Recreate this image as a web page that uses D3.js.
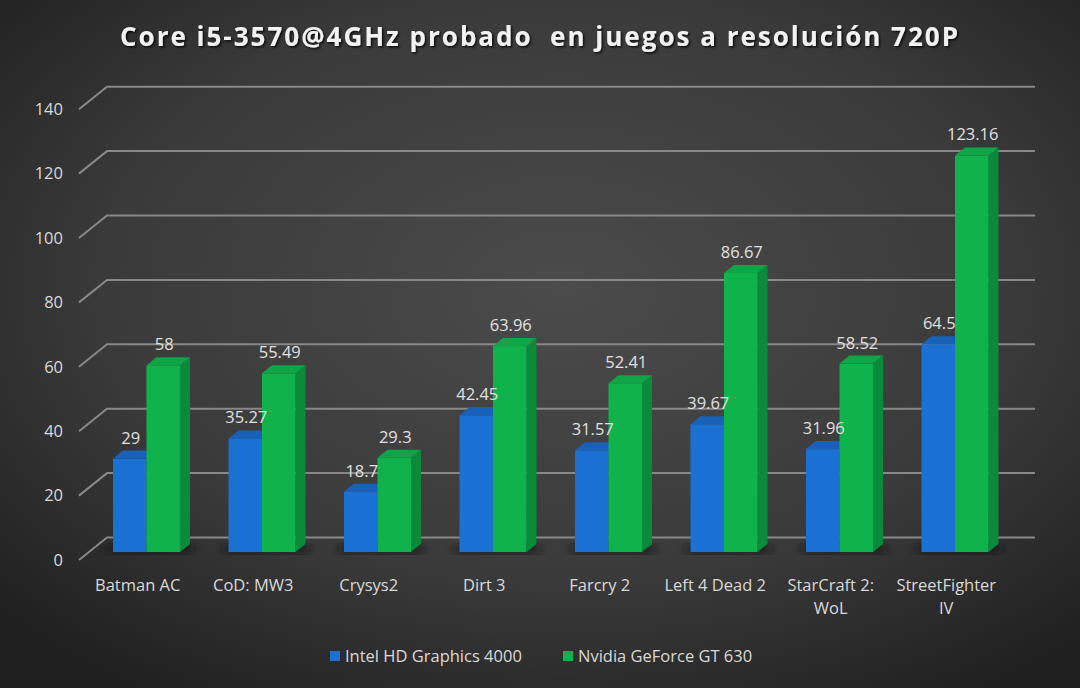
<!DOCTYPE html>
<html>
<head>
<meta charset="utf-8">
<script src="https://cdn.jsdelivr.net/npm/d3@7"></script>
<style>
  html, body { margin: 0; padding: 0; background: #333; }
  svg { display: block; }
</style>
</head>
<body>
<svg width="1080" height="688"></svg>
<script>
// datos del gráfico
const categories = ["Batman AC", "CoD: MW3", "Crysys2", "Dirt 3", "Farcry 2", "Left 4 Dead 2", "StarCraft 2: WoL", "StreetFighter IV"];
const categoryLines = [["Batman AC"], ["CoD: MW3"], ["Crysys2"], ["Dirt 3"], ["Farcry 2"], ["Left 4 Dead 2"], ["StarCraft 2:", "WoL"], ["StreetFighter", "IV"]];
const seriesNames = ["Intel HD Graphics 4000", "Nvidia GeForce GT 630"];
const intelValues = [29, 35.27, 18.7, 42.45, 31.57, 39.67, 31.96, 64.5];
const nvidiaValues = [58, 55.49, 29.3, 63.96, 52.41, 86.67, 58.52, 123.16];
const yTicks = [0, 20, 40, 60, 80, 100, 120, 140];
const title = "Core i5-3570@4GHz probado  en juegos a resolución 720P";

const svg = d3.select("svg");
const font = "Open Sans, sans-serif";

// fondo con degradado radial
const defs = svg.append("defs");
const bg = defs.append("radialGradient").attr("id", "bg")
    .attr("cx", "52%").attr("cy", "42%").attr("r", "70%");
bg.append("stop").attr("offset", "0%").attr("stop-color", "#4b4b4b");
bg.append("stop").attr("offset", "60%").attr("stop-color", "#3a3a3a");
bg.append("stop").attr("offset", "100%").attr("stop-color", "#202020");
defs.append("filter").attr("id", "blur").append("feGaussianBlur").attr("stdDeviation", 4);
const ts = defs.append("filter").attr("id", "tshadow");
ts.append("feDropShadow").attr("dx", 1.5).attr("dy", 1.5).attr("stdDeviation", 1)
    .attr("flood-color", "#000").attr("flood-opacity", 0.8);

svg.append("rect").attr("width", 1080).attr("height", 688).attr("fill", "url(#bg)");

// escalas
const x = d3.scaleBand().domain(categories).range([80, 1004]);
const xs = d3.scaleBand().domain(seriesNames).range([33, 100]);
const y = d3.scaleLinear().domain([0, 140]).range([552, 552 - 140 * 3.22]);

const depthX = 10, depthY = 8;
const colors = {
    front: ["#1b70d4", "#10b24c"],
    top: ["#1762b8", "#0fa445"],
    side: ["#1457a6", "#0a8a3a"]
};

// líneas de la cuadrícula en perspectiva
const grid = svg.append("g");
grid.selectAll("path").data(yTicks).enter().append("path")
    .attr("d", d => `M79,${y(d) + 8}L107,${y(d) - 14.5}H1035`)
    .attr("fill", "none").attr("stroke", "#888").attr("stroke-width", 2);

grid.selectAll("text").data(yTicks).enter().append("text")
    .attr("x", 63).attr("y", d => y(d) + 8).attr("dy", "0.35em")
    .attr("text-anchor", "end")
    .attr("font-family", font).attr("font-size", 16.5)
    .attr("fill", "#d9d9d9").text(d => d);

// sombras bajo las barras
svg.append("g").selectAll("rect").data(categories).enter().append("rect")
    .attr("x", d => x(d) + 28).attr("y", y(0) - 8)
    .attr("width", 85).attr("height", 10)
    .attr("fill", "#111").attr("opacity", 0.6).attr("filter", "url(#blur)");

// barras 3D
const rows = [];
categories.forEach((c, i) => {
    rows.push({ cat: c, s: 0, v: intelValues[i] });
    rows.push({ cat: c, s: 1, v: nvidiaValues[i] });
});
const bx0 = d => x(d.cat) + xs(seriesNames[d.s]);
const bx1 = d => bx0(d) + xs.bandwidth();

const bars = svg.append("g").selectAll("g").data(rows).enter().append("g");
bars.each(function (d) {
    const g = d3.select(this);
    const x0 = bx0(d), x1 = bx1(d);
    const yt = y(d.v), yb = y(0);
    g.append("path")
        .attr("d", `M${x1},${yt}L${x1 + depthX},${yt - depthY}L${x1 + depthX},${yb - depthY}L${x1},${yb}Z`)
        .attr("fill", colors.side[d.s]);
    g.append("rect").attr("x", x0).attr("y", yt)
        .attr("width", x1 - x0).attr("height", yb - yt)
        .attr("fill", colors.front[d.s]);
    g.append("path")
        .attr("d", `M${x0},${yt}L${x0 + depthX},${yt - depthY}L${x1 + depthX},${yt - depthY}L${x1},${yt}Z`)
        .attr("fill", colors.top[d.s]);
});

// etiquetas de valor (encima de todas las barras)
svg.append("g").selectAll("text").data(rows).enter().append("text")
    .attr("x", d => (bx0(d) + bx1(d)) / 2 + 1)
    .attr("y", d => y(d.v) - depthY - 7)
    .attr("text-anchor", "middle")
    .attr("font-family", font).attr("font-size", 16.5)
    .attr("fill", "#e0e0e0").text(d => d.v);

// etiquetas de categoría
const cl = svg.append("g").selectAll("text").data(categories).enter().append("text")
    .attr("x", d => x(d) + x.bandwidth() / 2).attr("y", 591)
    .attr("text-anchor", "middle")
    .attr("font-family", font).attr("font-size", 16.5)
    .attr("fill", "#d9d9d9");
cl.selectAll("tspan").data((d, i) => categoryLines[i]).enter().append("tspan")
    .attr("x", function () { return d3.select(this.parentNode).attr("x"); })
    .attr("dy", (d, i) => i === 0 ? 0 : 23)
    .text(d => d);

// título
svg.append("text").attr("x", 540).attr("y", 46)
    .attr("text-anchor", "middle")
    .attr("font-family", font).attr("font-weight", "bold")
    .attr("font-size", 26).attr("letter-spacing", 2)
    .attr("fill", "#f2f2f2").attr("filter", "url(#tshadow)")
    .style("white-space", "pre")
    .text(title);

// leyenda
const legendX = [330, 563];
const lg = svg.append("g").selectAll("g").data(seriesNames).enter().append("g")
    .attr("transform", (d, i) => `translate(${legendX[i]},651)`);
lg.append("rect").attr("width", 10).attr("height", 10)
    .attr("fill", (d, i) => colors.front[i]);
lg.append("text").attr("x", 15).attr("y", 5).attr("dy", "0.35em")
    .attr("font-family", font).attr("font-size", 16.5)
    .attr("fill", "#d9d9d9").text(d => d);
</script>
</body>
</html>
